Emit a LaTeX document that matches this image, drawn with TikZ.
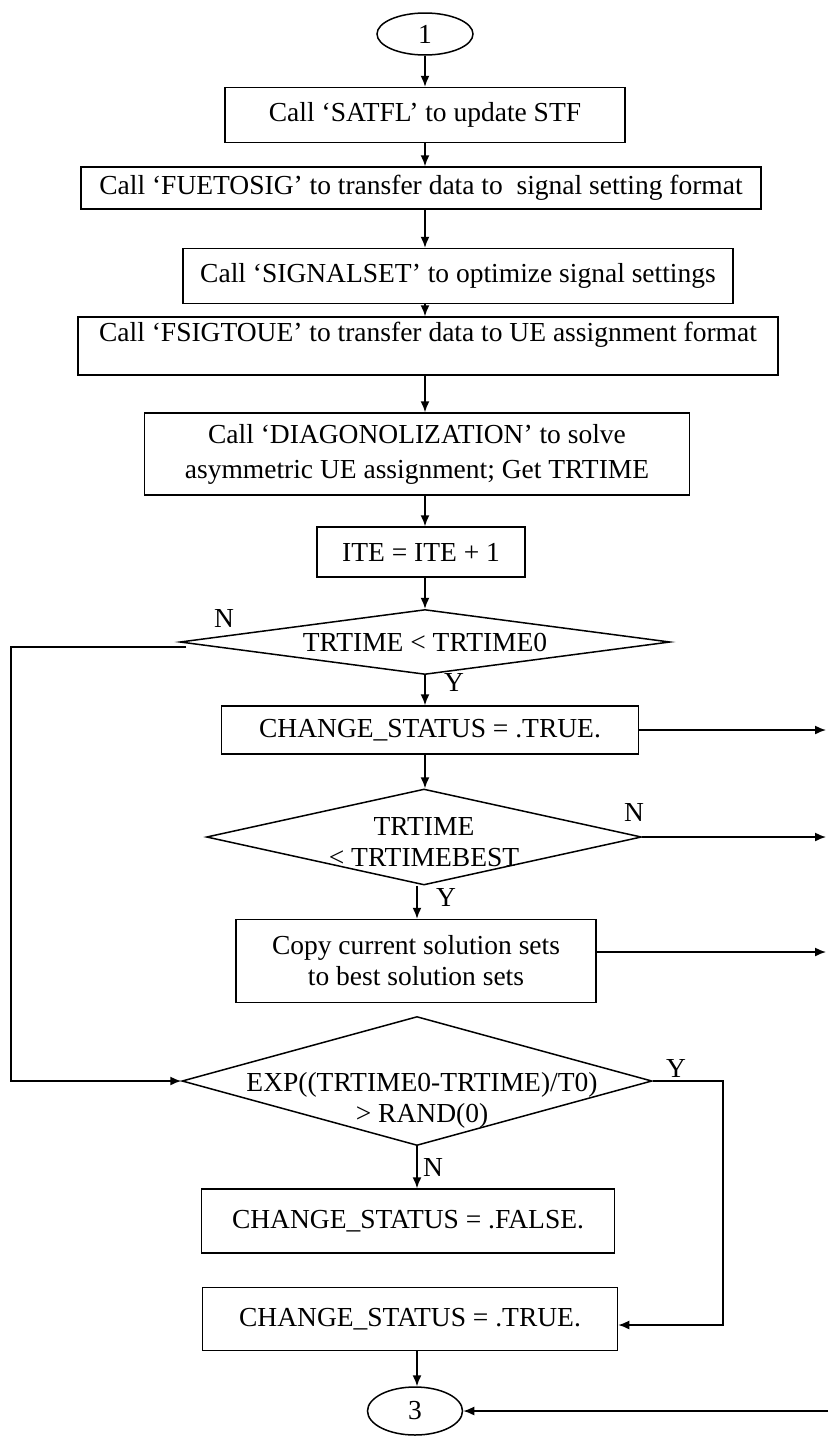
\documentclass[tikz,border=0pt]{standalone}
\usepackage{fontspec}
\setmainfont{Liberation Serif}
\usetikzlibrary{arrows.meta,shapes.geometric}
\tikzstyle{process} = [draw, rectangle, line width=1.5pt, inner sep=0pt, align=center]
\tikzstyle{decision} = [draw, diamond, line width=1.5pt, inner sep=0pt]
\tikzstyle{terminal} = [draw, ellipse, line width=1.5pt, inner sep=0pt]
\tikzstyle{arrow} = [draw, line width=1.5pt, -{Latex[length=11pt,width=9pt]}]
\tikzstyle{answer} = [inner sep=0pt, align=center]

\begin{document}
\begin{tikzpicture}[x=1pt, y=-1pt, font=\fontsize{27.5}{31}\selectfont]
    \useasboundingbox (0,0) rectangle (828,1438);
    \node[terminal, minimum width=96pt, minimum height=42pt] (e1) at (425,34) {1};
    \node[terminal, minimum width=95pt, minimum height=48pt] (e3) at (415,1411) {3};
    \foreach \name/\pos/\w/\h/\txt in {
        {b1/(425,115)/400/55/Call ‘SATFL’ to update STF},
        {b2/(421,188)/680/42/Call ‘FUETOSIG’ to transfer data to \ signal setting format},
        {b3/(458,276)/550/55/Call ‘SIGNALSET’ to optimize signal settings},
        {b5/(417,454)/545/82/Call ‘DIAGONOLIZATION’ to solve\\[4pt]asymmetric UE assignment; Get TRTIME},
        {b6/(421,552)/208/50/ITE = ITE + 1},
        {b7/(430,730)/417/48/CHANGE\_STATUS = .TRUE.},
        {b8/(416,961)/360/83/Copy current solution sets\\to best solution sets},
        {b9/(408,1221)/413/64/CHANGE\_STATUS = .FALSE.},
        {b10/(410,1319)/415/63/CHANGE\_STATUS = .TRUE.}}
        \node[process, minimum width=\w pt, minimum height=\h pt] (\name) at \pos {\txt};
    \node[process, minimum width=700pt, text height=24pt, text depth=34pt] (b4) at (428,346)
        {Call ‘FSIGTOUE’ to transfer data to UE assignment format};
    \foreach \name/\pos/\w/\h in {{d1/(425,642)/490/65}, {d2/(424,837)/435/96}, {d3/(417,1081)/470/129}}
        \node[decision, minimum width=\w pt, minimum height=\h pt] (\name) at \pos {};
    \node[answer] (d1text) at (425,642) {TRTIME < TRTIME0};
    \node[answer] (d2text) at (424,842) {TRTIME\\< TRTIMEBEST};
    \node[answer] (d3text) at (422,1100) {EXP((TRTIME0-TRTIME)/T0)\\> RAND(0)};
    % yes / no marks
    \node[answer] (n1) at (224,618) {N};
    \node[answer] (y1) at (454,682) {Y};
    \node[answer] (n2) at (634,812) {N};
    \node[answer] (y2) at (446,897) {Y};
    \node[answer] (y3) at (676,1068) {Y};
    \node[answer] (n3) at (433,1167) {N};
    \coordinate (out1) at (826,730);
    \coordinate (out2) at (826,837);
    \coordinate (out3) at (826,952);
    \coordinate (in3) at (828,1411);
    \coordinate (loopl) at (11,647);
    \coordinate (loopr) at (723,1325);
    \foreach \source/\dest in {e1/b1, b1/b2, b2/b3, b3/b4, b4/b5, b5/b6, b6/d1, d1/b7, b7/d2}
        \path[arrow] (\source.south -| e1) -- (\dest.north -| e1);
    \foreach \source/\dest in {d2/b8, d3/b9, b10/e3}
        \path[arrow] (\source.south -| d3) -- (\dest.north -| d3);
    \path[arrow] (b7.east) -- (out1);
    \path[arrow] (d2.east) -- (out2);
    \path[arrow] (out3 -| b8.east) -- (out3);
    \path[arrow] (in3) -- (e3.east);
    \path[arrow] ([shift={(7,5)}]d1.west) -- (loopl) |- (d3.west);
    \path[arrow] (d3.east) -| (loopr) -- (b10.east |- loopr);
\end{tikzpicture}
\end{document}
